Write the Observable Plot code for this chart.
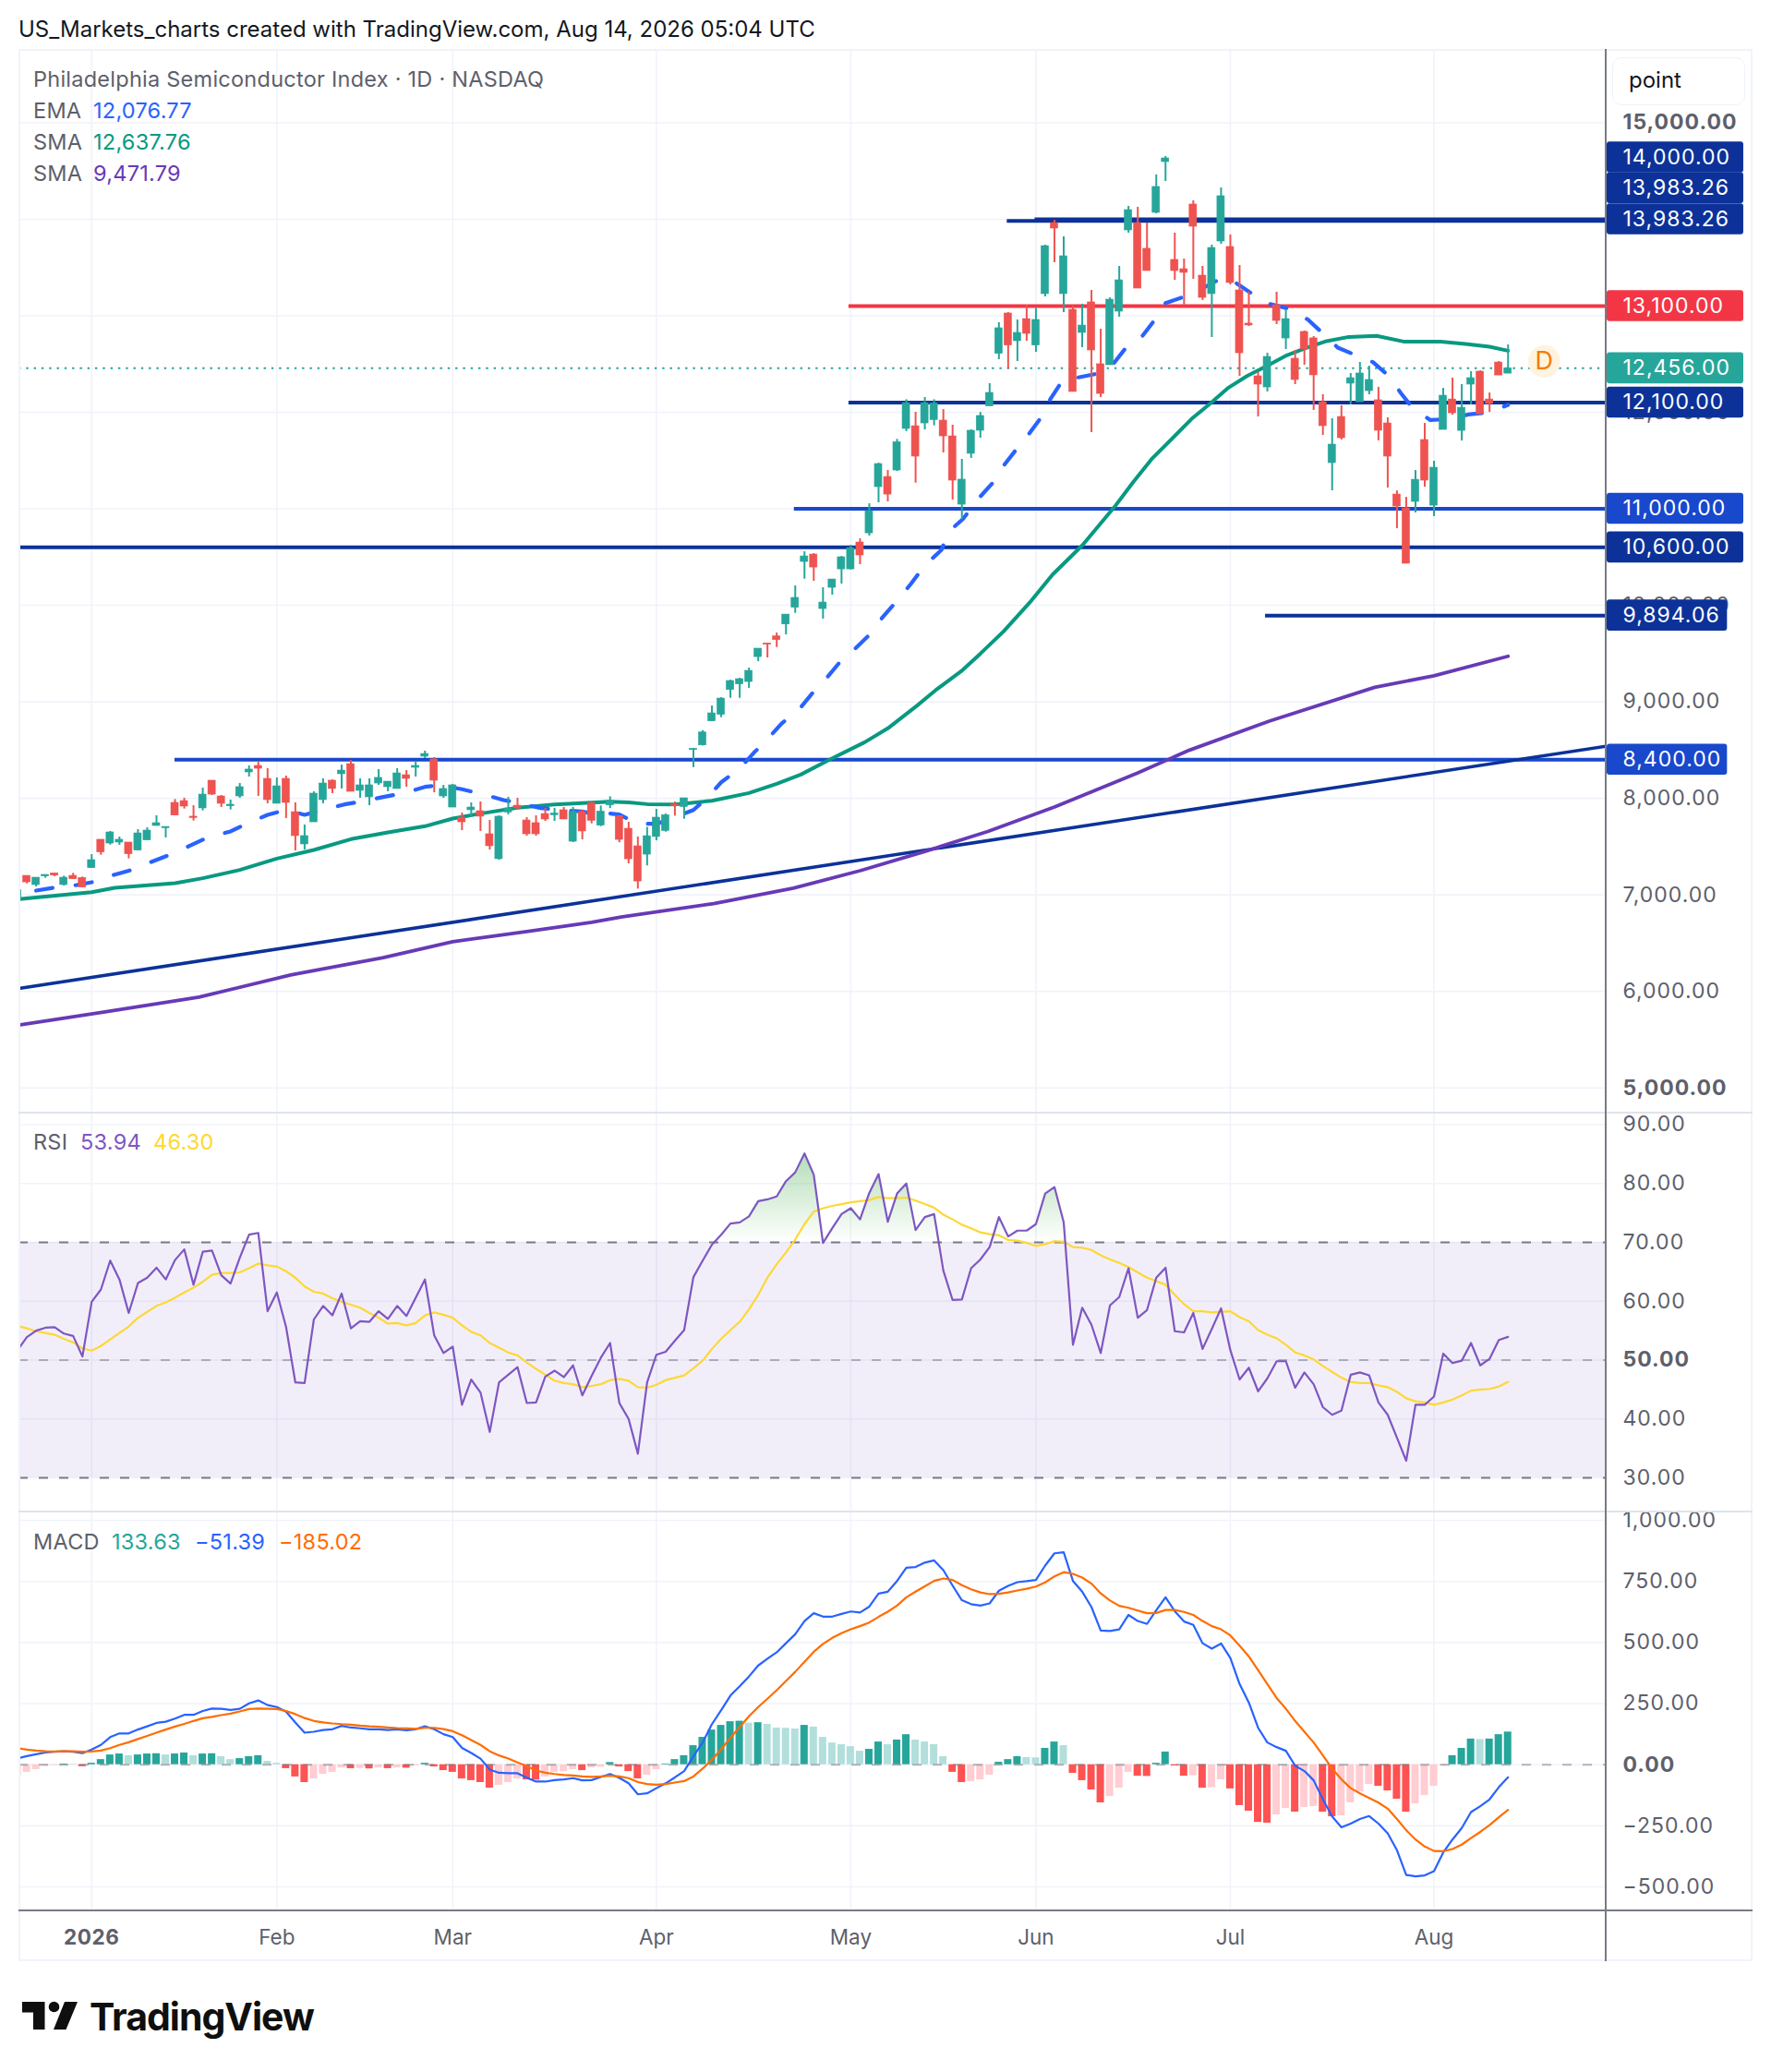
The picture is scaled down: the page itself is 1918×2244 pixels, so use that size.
<!DOCTYPE html>
<html><head><meta charset="utf-8">
<script src="https://cdn.jsdelivr.net/npm/d3@7"></script>
<script src="https://cdn.jsdelivr.net/npm/@observablehq/plot@0.6"></script>
<style>
html,body{margin:0;padding:0;background:#fff}
#root{position:relative;width:1918px;height:2244px;overflow:hidden;font-family:Inter,"Liberation Sans",sans-serif}
.t{position:absolute;white-space:nowrap;transform:translateY(-50%);line-height:1}
.s{letter-spacing:.25px}
.g{color:#5d606b}
#root svg.pane{position:absolute;left:0;overflow:visible;background:transparent}
#root svg.pane text{letter-spacing:1px}
#root svg.pane .xl text{letter-spacing:0}
#root svg.pane .xb text{letter-spacing:.6px}
.c{position:absolute}
</style></head><body>
<svg width="0" height="0" style="position:absolute"><defs><linearGradient id="ob" x1="0" y1="0" x2="0" y2="1"><stop offset="0" stop-color="#4caf50" stop-opacity=".42"/><stop offset="1" stop-color="#4caf50" stop-opacity="0"/></linearGradient></defs></svg>
<div id="root"></div>
<script>
const firstBar=-8;
const candleOpen=[6950,7197,7102,7191,7223,7102,7197,7175,
7277,7571,7532,7542,7542,7459,7564,7714,7692,7953,
7972,7810,7896,8183,8020,7918,8020,8269,8336,8202,
7944,8202,7857,7523,7752,7982,8183,8250,8355,8078,
8011,8154,8116,8097,8240,8317,8432,8403,8020,7905,
7800,7877,7867,7628,7370,7854,7924,7771,7743,7838,
7826,7877,7551,7858,7950,7717,7927,7816,7685,7503,
7417,7600,7663,7934,7911,8501,8549,8798,8865,9123,
9181,9206,9464,9605,9678,9802,9975,10450,10526,9962,
10182,10373,10373,10651,10746,11225,11330,11397,11828,11856,
11885,11920,11914,11751,11043,11570,11809,12061,12606,13024,
12737,12966,12692,13225,13961,13225,13062,12823,13139,12498,
12488,13043,13885,13961,13694,14067,14593,13579,13483,14153,
13416,13225,13770,13713,13263,12919,12373,12258,13110,12765,
12555,12833,12766,12105,11474,11952,12297,12105,12220,12125,
11885,11148,11005,11072,11713,11033,11818,12133,11808,12287,
12421,12133,12516,12401];
const candleHigh=[7067,7197,7178,7207,7223,7194,7223,7185,
7417,7571,7657,7599,7542,7676,7695,7819,7704,7988,
8001,7924,8106,8183,8030,7982,8154,8336,8384,8307,
8212,8231,7953,7724,8068,8202,8192,8345,8393,8202,
8202,8298,8173,8307,8288,8384,8489,8422,8135,8145,
7848,7953,7963,7771,7819,8011,8001,7800,7819,7896,
7896,7905,7905,7877,7960,7921,8016,7820,7752,7600,
7700,7886,7838,7962,8001,8514,8702,8957,9043,9225,
9244,9350,9551,9605,9713,9904,10201,10555,10536,10182,
10268,10507,10622,10689,11052,11473,11397,11720,12130,12000,
12153,12130,12028,11866,11512,11818,11998,12297,12928,13033,
12957,13110,13078,13732,13990,13818,13100,13120,13263,12861,
13186,13512,14134,14124,13961,14459,14650,13856,13588,14191,
13512,13732,14325,13837,13521,13244,12412,12612,13244,13062,
12641,12842,12785,12182,11933,12067,12402,12517,12478,12259,
11943,11186,11119,11397,11885,11493,12248,12354,12287,12421,
12430,12200,12526,12698];
const candleLow=[6939,7114,7083,7172,7188,7092,7162,7076,
7277,7411,7516,7513,7373,7459,7564,7714,7590,7822,
7889,7765,7870,8030,7905,7880,8001,8221,8020,7944,
7944,7791,7456,7465,7752,7944,8049,8097,8068,8001,
7925,8135,8068,8097,8116,8221,8412,8058,8001,7905,
7666,7800,7657,7465,7360,7829,7877,7609,7609,7762,
7762,7781,7542,7570,7736,7707,7895,7540,7321,7060,
7300,7560,7650,7816,7784,8319,8543,8798,8836,9037,
9037,9139,9417,9455,9563,9694,9917,10271,10249,9857,
10105,10220,10367,10421,10718,11062,11072,11387,11800,11266,
11818,11860,11579,11091,10890,11522,11732,12061,12545,12450,
12526,12737,12622,13196,13550,13033,12211,12670,11790,12153,
12488,12986,13856,13282,13464,14057,14392,13368,13100,13378,
13158,12775,13741,13320,12373,12890,11952,12211,12909,12651,
12287,12488,12019,11761,11187,11713,12077,12105,12182,11704,
11216,10794,10431,10957,11225,10919,11818,11971,11703,12076,
11980,11999,12382,12401];
const candleClose=[7050,7130,7178,7207,7200,7178,7162,7076,
7360,7440,7647,7571,7421,7637,7666,7743,7704,7822,
7915,7797,8039,8039,7944,7934,8116,8298,8307,7982,
8125,7953,7609,7609,8049,8154,8097,8288,8068,8135,
8135,8212,8173,8259,8202,8336,8460,8183,8097,8135,
7752,7905,7810,7504,7810,7896,7896,7628,7628,7781,
7842,7781,7858,7657,7768,7863,7975,7570,7369,7139,
7608,7800,7825,7918,8001,8514,8683,8881,9034,9216,
9235,9321,9551,9592,9640,9904,10077,10507,10392,10029,
10268,10498,10593,10517,10976,11464,11148,11690,12095,11541,
12095,12090,11751,11292,11302,11809,11962,12201,12871,12692,
12823,12813,12957,13722,13904,13617,12211,12899,12641,12191,
13167,13368,14095,13282,13464,14335,14631,13464,13445,13923,
13186,13703,14239,13340,12612,12900,12287,12574,12947,12966,
12335,12651,12383,11857,11665,11732,12354,12402,12335,11809,
11541,11024,10431,11301,11292,11426,12172,11990,12047,12354,
11980,12086,12382,12456];

const rsiValues=[51.7,53.9,55.0,55.5,55.6,54.5,54.1,50.6,
59.9,62.0,66.9,63.7,58.0,63.1,64.0,65.7,63.7,67.0,
68.8,62.8,68.4,68.6,64.4,63.0,67.4,71.3,71.6,58.3,
61.5,55.6,46.2,46.1,56.9,59.2,57.6,61.3,55.4,56.6,
56.5,58.3,57.0,59.2,57.5,60.6,63.7,54.2,51.2,52.3,
42.4,46.7,44.5,37.8,46.2,47.5,48.8,42.7,42.8,47.2,
48.2,47.1,49.1,44.0,47.3,50.4,52.9,42.7,40.0,34.1,
46.2,50.9,51.4,53.3,55.1,64.1,66.9,69.6,71.3,73.2,
73.4,74.4,77.0,77.3,77.8,80.4,81.9,85.1,81.5,69.9,
72.4,74.8,75.8,73.9,78.4,81.6,73.5,78.3,80.0,72.1,
74.3,74.8,65.2,60.2,60.3,65.6,67.1,69.2,74.3,71.0,
72.0,72.0,73.1,78.3,79.4,73.4,52.6,58.9,56.0,51.2,
59.3,60.7,65.6,57.2,58.5,64.0,65.7,54.9,54.7,58.0,
51.9,55.3,58.8,51.7,46.7,48.7,44.7,46.9,49.8,49.8,
45.3,47.9,45.9,42.0,40.7,41.4,47.5,47.9,47.4,42.8,
40.7,36.8,32.9,42.4,42.4,43.8,51.1,49.5,49.9,52.9,
49.1,50.2,53.4,53.94];
const rsiAverage=[55.8,55.4,54.9,54.6,54.3,53.6,53.0,52.0,
51.6,52.4,53.5,54.6,55.7,57.2,58.2,59.2,59.8,60.6,
61.5,62.3,63.3,64.5,64.8,64.8,64.9,65.6,66.4,66.1,
65.9,65.1,64.0,62.5,61.6,61.3,60.5,59.9,59.4,58.9,
58.0,57.2,56.2,56.3,55.9,56.3,57.6,58.1,57.7,57.2,
55.9,54.8,54.2,52.9,52.1,51.3,50.8,49.6,48.5,47.5,
46.5,46.1,45.9,45.4,45.6,45.9,46.6,46.8,46.5,45.4,
45.3,45.8,46.6,47.0,47.4,48.6,49.9,51.9,53.6,55.1,
56.5,58.6,61.1,64.0,66.3,68.3,70.5,73.1,75.2,75.8,
76.2,76.5,76.8,77.0,77.2,77.7,77.5,77.5,77.6,77.1,
76.5,75.9,74.7,73.9,73.0,72.4,71.7,71.4,71.2,70.4,
70.3,69.9,69.4,69.7,70.2,70.1,69.2,69.1,68.7,67.8,
67.1,66.5,65.8,64.9,64.0,63.4,62.8,61.1,59.5,58.3,
58.3,58.1,58.2,58.3,57.3,56.6,55.1,54.3,53.7,52.6,
51.3,50.8,50.1,49.0,48.0,47.0,46.3,46.1,46.1,45.7,
45.4,44.6,43.5,43.0,42.8,42.4,42.8,43.3,44.0,44.8,
45.0,45.1,45.5,46.3];

const macdLine=[26,35,43,50,53,55,53,47,
62,81,113,128,128,144,157,171,176,189,
204,204,220,230,229,224,229,251,263,244,
236,217,173,131,135,142,145,159,152,149,
145,145,142,145,141,145,157,145,125,113,
69,48,25,-20,-33,-35,-35,-53,-69,-69,
-63,-60,-55,-64,-63,-50,-38,-54,-76,-121,
-117,-96,-76,-52,-26,34,91,166,223,283,
321,361,406,434,460,497,534,588,620,606,
606,617,627,623,647,700,708,752,806,809,
827,836,796,733,673,657,651,660,712,732,
747,751,756,815,865,869,752,708,645,549,
547,554,613,588,576,632,685,628,586,572,
497,475,496,437,330,254,151,91,72,57,
-4,-26,-64,-142,-212,-256,-241,-222,-210,-241,
-281,-350,-451,-457,-453,-436,-359,-306,-259,-194,
-170,-142,-92,-51.39];
const macdSignal=[68,62,58,55,54,55,55,53,
54,58,68,81,92,105,118,131,144,156,
167,179,190,196,203,209,218,228,230,229,
228,220,207,191,179,173,169,166,164,160,
157,155,152,150,149,147,151,151,146,137,
121,101,81,55,38,25,9,-6,-24,-33,
-38,-42,-44,-48,-50,-48,-45,-48,-55,-71,
-79,-82,-79,-73,-67,-48,-16,21,63,110,
154,198,236,270,305,343,380,421,462,494,
519,538,554,567,582,605,626,651,685,708,
730,752,762,756,735,718,705,698,699,705,
713,720,729,746,771,788,781,766,741,701,
672,650,642,631,620,621,633,633,625,613,
588,567,554,529,487,443,387,330,273,229,
179,135,91,38,-16,-60,-96,-117,-136,-155,
-180,-222,-268,-306,-335,-353,-354,-345,-327,-300,
-275,-247,-215,-185.02];
const macdHist=[-45,-31,-20,-6,-4,3,2,-8,
6,21,40,44,37,40,44,45,40,44,
48,37,44,45,33,21,25,33,37,14,
6,-16,-50,-73,-58,-39,-31,-13,-16,-15,
-17,-13,-16,-13,-14,-5,6,-9,-24,-31,
-58,-65,-73,-96,-84,-73,-58,-62,-63,-50,
-31,-28,-20,-24,-13,-10,9,-9,-28,-58,
-43,-20,3,21,37,78,112,142,161,176,
178,170,172,165,150,149,146,161,154,112,
89,82,74,55,63,93,82,101,123,101,
93,82,33,-31,-73,-69,-62,-43,10,21,
33,29,28,67,93,78,-35,-65,-103,-156,
-130,-96,-31,-47,-48,6,52,-5,-47,-45,
-96,-94,-62,-99,-167,-190,-236,-239,-205,-179,
-194,-175,-171,-194,-213,-209,-156,-111,-81,-88,
-107,-141,-194,-160,-126,-88,-5,37,67,105,
103,105,123,133.63];

const emaIndex=[-6,-4,-2,0,2.5,4.5,6.5,8.5,10.5,12.5,15,16.7,19,21,23,25,27.3,29.3,31.5,33.8,36,37.5,38,40,42,44.5,46,48.5,50.5,53,54,55,57,59,61,62,65,66.5,68,70,71.5,73,74.5,76.5,78,79.5,80.8,82.5,84.2,85.4,87,88.5,90,91.8,92.6,94.1,95.9,97.4,98.5,99.9,101.2,102.6,103.5,104.8,105.3,106.5,108.7,110.3,111.8,113.5,114.9,116,118.3,119,119.7,122,122.9,123.8,125.7,127.1,129.1,129.6,131.4,133.1,134.6,136.6,138.4,140.2,141.4,142.8,144.6,146.7,148.7,151,153];
const emaValues=[7044,7076,7095,7130,7210,7264,7344,7417,7504,7593,7657,7736,7829,7880,7829,7880,7937,7969,8014,8055,8119,8135,8129,8094,8049,7982,7953,7899,7880,7864,7842,7854,7832,7736,7736,7768,7879,8007,8166,8310,8469,8613,8772,8932,9107,9260,9410,9554,9713,9873,10048,10223,10415,10574,10765,10893,11117,11276,11445,11618,11771,11952,12128,12319,12360,12360,12402,12494,12679,12791,12966,13132,13206,13269,13269,13387,13391,13327,13206,13126,13078,13046,12960,12807,12670,12590,12520,12370,12201,12032,11920,11929,11977,11999,12076.77];
const smaFastIndex=[-7.86,0,2.5,9,12,16,20,24,28,32,36,39,42,46,50,54,56,58,60,63,67,71,74,76.6,79.6,83.5,86,89.2,91.2,93.9,96,98.5,101.5,103.8,107,110.5,112.5,114.5,116,118.8,120.8,122.8,124.8,127.1,129.1,131.1,133.4,135.8,138.8,141.7,145.7,148.4,151,153];
const smaFastValues=[6955,7028,7073,7121,7172,7258,7376,7465,7577,7647,7711,7791,7842,7902,7937,7956,7965,7959,7940,7937,7975,8055,8150,8246,8396,8581,8725,8964,9123,9315,9499,9729,10048,10319,10620,11021,11276,11515,11659,11930,12089,12255,12376,12488,12590,12663,12737,12781,12791,12733,12733,12707,12679,12637.76];
const smaSlowIndex=[-7.86,1.6,11.6,21.5,31.5,39,47,54,57.2,67.2,75.8,83,90,96.8,104,112.9,118.6,127.2,138.6,145,153];
const smaSlowValues=[5650,5790,5940,6170,6350,6515,6620,6716,6770,6910,7070,7250,7450,7657,7910,8260,8500,8800,9150,9270,9471.79];

const trendIndex=[-7.86,163.6];
const trendValues=[6030,8540];
const levelValues=[8400,10600,11000,12100,13100,13983.26,14000,9894.06];
const levelStart=[9,-7.86,75.9,81.8,81.8,98.9,101.9,126.8];
const levelColors=["#1848cc","#0c3299","#1848cc","#0c3299","#f23645","#0c3299","#0c3299","#0c3299"];

const priceGrid=[5000,6000,7000,8000,9000,10000,11000,12000,13000,14000,15000];
const priceTicks=[6000,7000,8000,9000,10000,12000];
const priceTicksBold=[5000,15000];
const rsiTicks=[30,40,60,70,80,90];
const rsiTicksBold=[50];
const macdTicks=[-500,-250,250,500,750,1000];
const macdTicksBold=[0];
const timeTickIndex=[0,20,39,61,82,102,123,145];
const timeTickLabels=["2026","Feb","Mar","Apr","May","Jun","Jul","Aug"];

const labelValues=[14000,13983.26,13983.26,13100,12456,12100,11000,10600,9894.06,8400];
const labelTexts=["14,000.00","13,983.26","13,983.26","13,100.00","12,456.00","12,100.00","11,000.00","10,600.00","9,894.06","8,400.00"];
const labelColors=["#0c3299","#0c3299","#0c3299","#f23645","#26a69a","#0c3299","#1848cc","#0c3299","#0c3299","#1848cc"];
const labelOffsets=[-67,-35.5,-1.7,0,0,0,0,0,0,0];

const UP="#26a69a",DOWN="#ef5350",GRID="#f0f3fa",TXT="#5d606b";
const xDomain=[-7.86,163.6];
const axisX=163.6;
const FONT="Inter, 'Liberation Sans', sans-serif";
const AXFS=23;

const bars=candleOpen.map((o,k)=>({i:firstBar+k,o,h:candleHigh[k],l:candleLow[k],c:candleClose[k],up:candleClose[k]>=o}));
const rows=rsiValues.map((r,k)=>({i:firstBar+k,rsi:r,ma:rsiAverage[k],macd:macdLine[k],sig:macdSignal[k],hist:macdHist[k]}));
rows.forEach((d,k)=>{const p=k?rows[k-1].hist:d.hist;
  d.col=d.hist>=0?(d.hist>p?"#26a69a":"#b2dfdb"):(d.hist<p?"#ff5252":"#ffcdd2");});
const zip=(a,b)=>a.map((x,k)=>({x,y:b[k]}));
const fmt=d=>(d<0?"\u2212":"")+d3.format(",.2f")(Math.abs(d));

const root=document.getElementById("root");
function add(html){root.insertAdjacentHTML("beforeend",html)}
function pane(top,opts){const el=Plot.plot({width:1918,marginLeft:20,marginRight:179,marginTop:0,marginBottom:0,
  x:{domain:xDomain,axis:null},style:{background:"transparent",fontFamily:FONT},...opts});
  el.classList.add("pane");el.style.top=top+"px";el.style.position="absolute";el.style.maxWidth="none";root.appendChild(el);return el}
const gridX=()=>Plot.ruleX(timeTickIndex,{stroke:GRID,strokeWidth:1.6});
const gridY=t=>Plot.ruleY(t,{stroke:GRID,strokeWidth:1.6});
const ticks=(t,bold)=>[
  Plot.text(t,{x:()=>axisX,y:d=>d,dx:18,text:fmt,textAnchor:"start",fill:TXT,fontSize:AXFS}),
  Plot.text(bold,{x:()=>axisX,y:d=>d,dx:18,text:fmt,textAnchor:"start",fill:TXT,fontSize:AXFS,fontWeight:700})];

// main price pane
const labelBoxes=labelValues.map((v,k)=>({v,t:labelTexts[k],col:labelColors[k],off:labelOffsets[k],
  right:labelTexts[k].length<9?176.7:178.46}));
const halfBox=16.8/0.10453;
pane(53,{height:1152,y:{domain:[4738.6,15760],range:[1152,0],axis:null},marks:[
  gridX(),gridY(priceGrid),
  Plot.ruleY(levelValues,{y:d=>d,x1:(d,k)=>levelStart[k],x2:()=>axisX,stroke:(d,k)=>levelColors[k],strokeWidth:4,clip:true}),
  Plot.line(zip(trendIndex,trendValues),{x:"x",y:"y",stroke:"#0c3299",strokeWidth:3.6,clip:true}),
  Plot.ruleY([12456],{x1:()=>xDomain[0],x2:()=>axisX,stroke:UP,strokeWidth:2,strokeDasharray:"2.4,5.9"}),
  Plot.line(zip(smaSlowIndex,smaSlowValues),{x:"x",y:"y",stroke:"#673ab7",strokeWidth:3.8,clip:true}),
  Plot.line(zip(smaFastIndex,smaFastValues),{x:"x",y:"y",stroke:"#089981",strokeWidth:4,clip:true}),
  Plot.line(zip(emaIndex,emaValues),{x:"x",y:"y",stroke:"#2962ff",strokeWidth:4.2,strokeDasharray:"18,25",strokeLinecap:"round"}),
  Plot.ruleX(bars,{x:"i",y1:"l",y2:"h",stroke:d=>d.up?UP:DOWN,strokeWidth:2,clip:true}),
  Plot.rect(bars,{x1:d=>d.i-0.4,x2:d=>d.i+0.4,y1:"o",y2:"c",fill:d=>d.up?UP:DOWN,stroke:d=>d.up?UP:DOWN,strokeWidth:.6,clip:true}),
  Plot.dot([12526],{x:()=>156.9,y:d=>d,r:17.5,fill:"#fff3e0",stroke:"none"}),
  Plot.text(["D"],{x:()=>156.9,y:()=>12526,text:d=>d,fill:"#f57c00",fontSize:27,className:"xl"}),
  ticks(priceTicks,priceTicksBold),
  Plot.rect(labelBoxes,{x1:()=>axisX+0.1,x2:"right",y1:d=>d.v-halfBox,y2:d=>d.v+halfBox,fill:"col",rx:3,
     render(index,scales,values,dim,ctx,next){const g=next(index,scales,values,dim,ctx);
       d3.select(g).selectAll("rect").attr("transform",(i)=>`translate(0,${labelBoxes[i].off})`);return g}}),
  Plot.text(labelBoxes,{x:()=>axisX,y:"v",dx:18,text:"t",textAnchor:"start",fill:"#fff",fontSize:AXFS,
     render(index,scales,values,dim,ctx,next){const g=next(index,scales,values,dim,ctx);
       d3.select(g).selectAll("text").each(function(i){this.setAttribute("transform",(this.getAttribute("transform")||"")+` translate(0,${labelBoxes[i].off})`)});return g}})
]});

// RSI pane
pane(1205,{height:431,y:{domain:[24.35,91.96],range:[431,0],axis:null},marks:[
  gridX(),gridY([...rsiTicks,...rsiTicksBold]),
  Plot.rectY([0],{x1:()=>xDomain[0],x2:()=>axisX,y1:()=>30,y2:()=>70,fill:"#7e57c2",fillOpacity:.1}),
  Plot.areaY(rows,{x:"i",y1:()=>70,y2:d=>Math.max(d.rsi,70),fill:"url(#ob)",clip:true}),
  Plot.ruleY([70,30],{x1:()=>xDomain[0],x2:()=>axisX,stroke:"#787b86",strokeWidth:2,strokeDasharray:"10,12"}),
  Plot.ruleY([50],{x1:()=>xDomain[0],x2:()=>axisX,stroke:"#787b86",strokeOpacity:.55,strokeWidth:2,strokeDasharray:"10,12"}),
  Plot.line(rows,{x:"i",y:"ma",stroke:"#fdd835",strokeWidth:2.2,clip:true}),
  Plot.line(rows,{x:"i",y:"rsi",stroke:"#7e57c2",strokeWidth:2.2,clip:true}),
  ticks(rsiTicks,rsiTicksBold)
]});

// MACD pane with time axis
pane(1636,{height:488,marginBottom:55,y:{domain:[-598.1,1037.9],axis:null},marks:[
  gridX(),gridY([...macdTicks,...macdTicksBold]),
  Plot.rect(rows,{x1:d=>d.i-0.4,x2:d=>d.i+0.4,y1:()=>0,y2:"hist",fill:"col",clip:true}),
  Plot.ruleY([0],{x1:()=>xDomain[0],x2:()=>axisX,stroke:"#787b86",strokeOpacity:.55,strokeWidth:2,strokeDasharray:"10,12"}),
  Plot.line(rows,{x:"i",y:"macd",stroke:"#2962ff",strokeWidth:2.2,clip:true}),
  Plot.line(rows,{x:"i",y:"sig",stroke:"#ff6d00",strokeWidth:2.2,clip:true}),
  ticks(macdTicks,macdTicksBold),
  Plot.text(timeTickIndex.slice(1),{x:d=>d,y:()=>-598.1,dy:29,text:(d,k)=>timeTickLabels[k+1],fill:TXT,fontSize:22.5,className:"xl"}),
  Plot.text(timeTickIndex.slice(0,1),{x:d=>d,y:()=>-598.1,dy:29,text:(d,k)=>timeTickLabels[k],fill:TXT,fontSize:22.5,fontWeight:700,className:"xb"})
]});

// page chrome
add(`<div class="c" style="left:20px;top:53px;width:1878px;height:2071px;border:2px solid ${GRID};box-sizing:border-box"></div>`);
add(`<div class="c" style="left:20px;top:1204px;width:1878px;height:2px;background:#e0e3eb"></div>`);
add(`<div class="c" style="left:20px;top:1635.5px;width:1878px;height:2px;background:#e0e3eb"></div>`);
add(`<div class="c" style="left:1738px;top:53px;width:2.2px;height:2071px;background:#787b86"></div>`);
add(`<div class="c" style="left:20px;top:2068px;width:1878px;height:2.2px;background:#787b86"></div>`);
add(`<div class="c" style="left:1746px;top:62px;width:144px;height:52px;border:1.5px solid ${GRID};border-radius:10px;box-sizing:border-box;background:#fff"></div>`);
add(`<div class="t" style="left:1764px;top:87px;font-size:24px;color:#131722">point</div>`);
add(`<div class="t" style="left:20px;top:32px;font-size:24px;color:#131722">US_Markets_charts created with TradingView.com, Aug 14, 2026 05:04 UTC</div>`);
add(`<div class="t g s" style="left:36px;top:85.5px;font-size:23.5px">Philadelphia Semiconductor Index · 1D · NASDAQ</div>`);
[["EMA","12,076.77","#2962ff",120],["SMA","12,637.76","#089981",154],["SMA","9,471.79","#673ab7",188]].forEach(([a,b,c,y])=>{
  add(`<div class="t g s" style="left:36px;top:${y}px;font-size:23.5px">${a}</div><div class="t s" style="left:101px;top:${y}px;font-size:23.5px;color:${c}">${b}</div>`)});
add(`<div class="t g s" style="left:36px;top:1237px;font-size:23.5px">RSI</div><div class="t s" style="left:87px;top:1237px;font-size:23.5px;color:#7e57c2">53.94</div><div class="t s" style="left:166px;top:1237px;font-size:23.5px;color:#fdd835">46.30</div>`);
add(`<div class="t g s" style="left:36px;top:1670px;font-size:23.5px">MACD</div><div class="t s" style="left:121px;top:1670px;font-size:23.5px;color:#26a69a">133.63</div><div class="t s" style="left:211px;top:1670px;font-size:23.5px;color:#2962ff">\u221251.39</div><div class="t s" style="left:302px;top:1670px;font-size:23.5px;color:#ff6d00">\u2212185.02</div>`);
add(`<svg class="c" style="left:0;top:2150px" width="90" height="60" viewBox="0 2150 90 60"><path fill="#0f0f0f" d="M24 2168H48.5V2198H36V2179.5H24Z"/><circle cx="58.5" cy="2173.5" r="5.8" fill="#0f0f0f"/><path fill="#0f0f0f" d="M70 2168H84L71.5 2198H58Z"/></svg>`);
add(`<div class="t" style="left:97px;top:2184px;font-size:41px;font-weight:700;letter-spacing:-1px;color:#0f0f0f">TradingView</div>`);
</script></body></html>
